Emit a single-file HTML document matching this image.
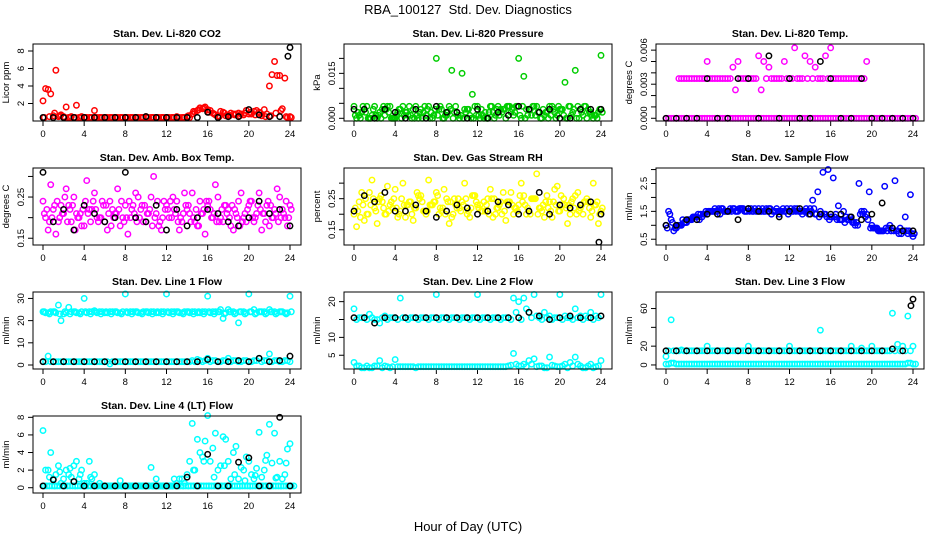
<!DOCTYPE html>
<html><head><meta charset="utf-8"><style>
html,body{margin:0;padding:0;background:#fff;}
svg{display:block;font-family:"Liberation Sans",sans-serif;}
</style></head><body>
<svg id="c" width="936" height="540" viewBox="0 0 936 540">
<text x="468" y="14" text-anchor="middle" font-size="13">RBA_100127&#160; Std. Dev. Diagnostics</text>
<text x="468" y="531" text-anchor="middle" font-size="13">Hour of Day (UTC)</text>
</svg>
<script>
const hourTicks=[0,4,8,12,16,20,24];
const co2Red1=[2.3,3.6,0.6,0.5,0.5,0.4,0.4,0.4,0.4,0.4,1.2,0.4,0.4,0.4,0.4,0.4,0.4,0.4,0.4,0.4,0.5,0.4,0.4,0.4,0.4,0.4,0.5,0.4,0.5,0.8,1.2,1.4,1.3,0.9,0.6,1.0,0.7,0.8,0.9,0.7,0.8,1.1,1.0,1.3,4.0,6.8,5.2,4.9,0.5];
const co2Red2=[3.7,3.1,5.8,0.7,1.6,0.5,1.8,0.5,0.4,0.4,0.4,0.4,0.4,0.4,0.4,0.4,0.4,0.4,0.4,0.4,0.4,0.4,0.4,0.4,0.4,0.4,0.4,0.4,0.4,1.0,1.5,1.6,1.2,0.7,1.1,0.6,0.9,0.8,0.8,1.2,0.8,1.2,0.6,0.8,5.3,5.2,1.4,0.4];
const co2Red3=[0.4,0.5,0.9,0.6,0.4,0.4,0.4,0.4,0.4,0.4,0.4,0.4,0.4,0.4,0.4,0.4,0.4,0.4,0.4,0.4,0.4,0.4,0.4,0.4,0.4,0.4,0.4,0.4,0.6,1.1,1.3,1.5,1.0,0.8,0.5,0.9,0.6,0.7,0.6,0.9,1.0,0.7,0.9,0.5,0.6,0.9,1.2,0.5,0.4];
const co2Black=[0.4,0.4,0.4,0.4,0.4,0.4,0.4,0.4,0.4,0.4,0.5,0.4,0.4,0.4,0.4,0.4,1.0,0.4,0.5,0.5,1.3,0.7,0.5,0.5,8.4];
const co2BlackExtra=[7.4];
const presGreen1=[0.004,0.001,0.003,0.000,0.004,0.002,0.001,0.004,0.000,0.003,0.002,0.001,0.004,0.003,0.001,0.002,0.020,0.003,0.001,0.016,0.002,0.015,0.003,0.008,0.004,0.001,0.000,0.002,0.004,0.003,0.004,0.001,0.020,0.014,0.003,0.004,0.002,0.001,0.004,0.002,0.003,0.012,0.004,0.016,0.003,0.004,0.002,0.001,0.021];
const presGreen2=[0.000,0.002,0.004,0.001,0.000,0.003,0.004,0.000,0.002,0.004,0.001,0.003,0.000,0.002,0.004,0.001,0.003,0.000,0.004,0.002,0.000,0.003,0.001,0.004,0.000,0.002,0.004,0.001,0.003,0.000,0.002,0.004,0.000,0.003,0.001,0.004,0.000,0.002,0.004,0.001,0.003,0.000,0.002,0.004,0.001,0.003,0.000,0.002];
const presGreen3=[0.001,0.000,0.002,0.000,0.001,0.000,0.003,0.000,0.001,0.000,0.002,0.000,0.001,0.000,0.003,0.000,0.001,0.000,0.002,0.000,0.001,0.000,0.003,0.000,0.001,0.000,0.002,0.000,0.001,0.003,0.004,0.002,0.001,0.000,0.003,0.001,0.000,0.002,0.001,0.000,0.003,0.000,0.001,0.000,0.002,0.000,0.001,0.000,0.002];
const presGreen4=[0.002,0.004,0.000,0.003,0.001,0.004,0.002,0.000,0.003,0.001,0.004,0.000,0.002,0.004,0.000,0.003,0.004,0.001,0.003,0.004,0.001,0.002,0.000,0.001,0.003,0.000,0.004,0.003,0.002,0.004,0.003,0.004,0.004,0.001,0.004,0.002,0.003,0.000,0.003,0.004,0.001,0.004,0.003,0.000,0.004,0.002,0.001,0.003];
const presBlack=[0.003,0.003,0.000,0.003,0.002,0.000,0.003,0.000,0.004,0.002,0.002,0.000,0.003,0.000,0.002,0.001,0.004,0.003,0.002,0.003,0.000,0.000,0.003,0.003,0.003];
const tempMag1=[0,0,0,0,0,0,0,0,0,0,0,0,0,0,0,0,0,0,0,0,0,0,0,0,0,0,0,0,0,0,0,0,0,0,0,0,0,0,0,0,0,0,0,0,0,0,0,0,0];
const tempMag2=[0.0035,0.0035,0.0035,0.0035,0.0035,0.005,0.0035,0.0035,0.0035,0.0035,0.0045,0.005,0.0035,0.0035,0.0035,0.0055,0.005,0.0045,0.0035,0.0035,0.005,0.0035,0.0062,0.0035,0.0055,0.005,0.0045,0.0035,0.0055,0.0062,0.0035,0.0035,0.0035,0.0035,0.0035,0.0035,0.005];
const tempMag3=[0.0035,0.0035,0.0035,0.0035,0.0035,0.0035,0.0035,0.0035,0.0035,0.0035,0.0035,0.0025,0.0035,0.0035,0.0035,0.0035,0.0025,0.0035,0.0035,0.0035,0.0035,0.0035,0.0035,0.0035,0.0035,0.0035,0.0035,0.0035,0.0035,0.0035,0.0035,0.0035,0.0035,0.0035,0.0035,0.0035,0.0035];
const tempBlack=[0,0,0,0,0.0035,0,0,0.0035,0.0035,0,0.0055,0,0.0035,0,0,0.005,0.0035,0,0,0.0035,0,0,0,0,0];
const ambMag1=[.24,.17,.22,.19,.21,.23,.25,.2,.18,.22,.26,.2,.19,.24,.21,.18,.23,.2,.26,.22,.19,.25,.21,.17,.23,.2,.24,.19,.22,.26,.18,.21,.23,.2,.25,.19,.22,.17,.24,.2,.23,.19,.26,.21,.18,.22,.25,.2,.23];
const ambMag2=[.2,.28,.16,.23,.27,.19,.21,.18,.29,.22,.2,.24,.17,.22,.27,.2,.16,.23,.25,.19,.21,.3,.18,.24,.2,.22,.17,.26,.21,.19,.24,.16,.22,.28,.2,.23,.18,.21,.26,.19,.24,.21,.17,.23,.2,.27,.22,.18];
const ambMag3=[.21,.19,.23,.2,.25,.22,.17,.21,.24,.19,.22,.2,.23,.18,.21,.24,.2,.22,.19,.23,.21,.18,.24,.2,.22,.25,.19,.21,.23,.2,.18,.22,.24,.21,.19,.23,.2,.22,.18,.21,.24,.2,.22,.19,.23,.21,.2,.24,.22];
const ambMag4=[.22,.2,.24,.21,.19,.23,.2,.22,.21,.24,.19,.23,.21,.2,.22,.19,.24,.21,.2,.23,.22,.2,.19,.22,.24,.21,.2,.23,.19,.22,.21,.24,.2,.19,.22,.21,.23,.2,.19,.22,.2,.23,.21,.24,.2,.19,.21,.2];
const ambBlack=[.31,.19,.22,.17,.23,.21,.19,.2,.31,.2,.19,.23,.17,.22,.18,.2,.22,.21,.19,.18,.2,.24,.21,.22,.18];
const rhYel1=[.2,.24,.18,.27,.22,.25,.2,.23,.28,.21,.19,.24,.22,.26,.2,.23,.27,.21,.25,.19,.22,.24,.2,.26,.23,.21,.25,.19,.22,.27,.24,.2,.23,.26,.21,.25,.22,.19,.24,.28,.21,.23,.2,.26,.22,.24,.19,.23,.21];
const rhYel2=[.16,.27,.2,.31,.17,.24,.29,.22,.19,.3,.23,.18,.26,.21,.31,.24,.2,.28,.17,.25,.22,.3,.19,.26,.23,.21,.28,.2,.24,.18,.27,.22,.3,.2,.25,.33,.21,.26,.19,.29,.23,.17,.25,.27,.2,.24,.3,.17];
const rhYel3=[.22,.19,.25,.23,.21,.26,.2,.24,.22,.25,.23,.2,.27,.24,.21,.23,.26,.22,.24,.2,.25,.23,.21,.26,.22,.24,.2,.25,.23,.21,.24,.22,.26,.23,.2,.25,.22,.24,.21,.23,.26,.22,.24,.2,.23,.25,.21,.24,.22];
const rhYel4=[.21,.23,.2,.25,.24,.22,.21,.25,.2,.23,.24,.22,.25,.21,.23,.24,.22,.2,.24,.23,.21,.25,.22,.24,.21,.23,.25,.22,.2,.24,.23,.21,.24,.22,.25,.2,.23,.22,.24,.21,.25,.23,.22,.21,.24,.22,.23,.2];
const rhBlack=[.21,.26,.24,.27,.21,.21,.23,.21,.19,.21,.23,.22,.2,.21,.24,.23,.2,.21,.27,.2,.23,.22,.23,.24,.2];
const rhBlackExtra=[.11];
const flowBlue1=[1.0,1.2,0.9,1.0,1.1,1.2,1.3,1.3,1.4,1.5,1.5,1.6,1.5,1.6,1.5,1.6,1.6,1.5,1.6,1.5,1.6,1.5,1.4,1.5,1.5,1.6,1.5,1.5,1.6,1.4,1.5,1.4,1.3,1.4,1.2,1.3,1.2,1.1,1.5,1.4,1.0,0.9,0.8,0.8,0.9,0.8,0.8,0.7,0.6];
const flowBlue2=[1.5,0.8,1.0,1.1,1.2,1.3,1.2,1.4,1.5,1.6,1.4,1.5,1.6,1.5,1.6,1.5,1.6,1.5,1.5,1.6,1.4,1.6,1.5,1.6,1.5,1.6,1.4,1.5,1.9,2.2,2.9,3.0,2.7,1.7,1.5,1.2,1.1,2.5,1.5,2.2,0.9,0.8,2.4,1.0,2.6,0.9,1.3,2.1];
const flowBlue3=[0.9,1.1,1.0,1.2,1.2,1.3,1.4,1.4,1.5,1.5,1.6,1.5,1.5,1.6,1.6,1.5,1.5,1.6,1.5,1.5,1.6,1.5,1.5,1.5,1.6,1.5,1.5,1.6,1.5,1.4,1.4,1.3,1.3,1.2,1.2,1.2,1.1,1.0,1.4,1.2,0.9,0.8,0.8,0.9,0.8,0.7,0.8,0.8,0.7];
const flowBlue4=[1.4,0.9,1.0,1.1,1.2,1.3,1.4,1.5,1.5,1.5,1.6,1.5,1.5,1.5,1.6,1.5,1.5,1.5,1.6,1.5,1.5,1.5,1.6,1.4,1.5,1.5,1.5,1.4,1.6,1.3,1.4,1.2,1.3,1.2,1.1,1.3,1.0,1.4,1.3,0.9,0.9,0.8,0.9,0.8,0.8,0.7,0.8,0.7];
const flowBlack=[1.0,1.0,1.2,1.2,1.4,1.4,1.5,1.2,1.6,1.5,1.5,1.3,1.5,1.6,1.4,1.4,1.4,1.4,1.3,1.2,1.4,1.8,0.9,0.8,0.8];
const l1Top=[24,23.5,24,27,23,26,24,23.5,30,24,24.5,24,23.5,24,24,23.5,32,24,24,23.5,24,24,23.5,24,32,24,24,23.5,24,24,23.5,24,31,24,24,21,25,24,19,24,32,25,24,24,25,24,24,23.5,31];
const l1Top2=[23.5,24,23.5,20,23.5,24,23.5,24,23.5,24,23.5,24,23.5,24,23.5,24,23.5,24,23.5,24,23.5,24,23.5,24,23.5,24,23.5,24,23.5,24,23.5,24,23.5,24,25,23.5,24,23.5,24,23.5,24,23.5,24,23.5,24,23.5,24,23.5];
const l1Top3=[24,23,24,23,24,23,24,23,24,23,24,23,24,23,24,23,24,23,24,23,24,23,24,23,24,23,24,23,24,23,24,23,24,23,24,23,24,23,24,23,24,23,24,23,24,23,24,23,24];
const l1Bot=[1.5,4,1.5,1.5,1.5,1.5,1.5,1.5,1.5,1.5,1.5,1.5,1.5,0.5,1.5,1.5,1.5,1.5,1.5,1.5,1.5,1.5,1.5,1.5,1.5,1.5,1.5,1.5,1.5,2,2.5,1.5,3,2,1.5,2,3,2,1.5,2,1.5,2,3,2,5,2,1.5,2,1.5];
const l1Bot2=[1.5,1.5,1.5,1.5,1.5,1.5,1.5,1.5,1.5,1.5,1.5,1.5,1.5,1.5,1.5,1.5,1.5,1.5,1.5,1.5,1.5,1.5,1.5,1.5,1.5,1.5,1.5,1.5,1.5,1.5,2,2,1.5,2,1.5,2,1.5,2,1.5,2,1.5,2,1.5,2,1.5,2,1.5,2];
const l1Black=[1.5,1.5,1.5,1.5,1.5,1.5,1.5,1.5,1.5,1.5,1.5,1.5,1.5,1.5,1.5,1.5,2.5,1.5,1.5,2,1.5,3,1.5,2,4];
const l2Top=[18,15.5,15.5,16.5,15,14,16,15.5,15.5,21,15.5,15.5,15.5,15.5,15.5,15.5,22,15.5,15.5,15.5,15.5,15.5,15.5,15.5,22,15.5,15.5,15.5,15.5,15.5,15.5,21,20,21,17,22,15.5,17,16,15.5,22,16,15.5,18,16,16,17,16,22];
const l2Top2=[15,15.5,15,15.5,15,15.5,15,15.5,15,15.5,15,15.5,15,15.5,15,15.5,15,15.5,15,15.5,15,15.5,15,15.5,15,15.5,15,15.5,15,15.5,15,17,15,18,15.5,16,15,15.5,15,15.5,15,15.5,15,15.5,15,15.5,15,15.5];
const l2Bot=[3,2,1.5,1.5,2,3.5,2,1.5,3.8,1.8,1.8,1.8,1.5,1.8,1.8,1.8,1.8,1.8,1.8,1.8,1.8,1.8,1.8,1.8,1.8,1.8,1.8,1.8,1.8,1.8,2,5.5,2,2.5,3.5,4,2,1.5,4.5,2,1.8,2.5,3,4.5,2,1.5,2.5,1.8,3.5];
const l2Bot2=[2,1.5,2,1.5,2,1.5,1.8,1.8,1.8,1.8,1.8,1.8,1.8,1.8,1.8,1.8,1.8,1.8,1.8,1.8,1.8,1.8,1.8,1.8,1.8,1.8,1.8,1.8,1.8,1.8,2.2,2.5,2,1.8,2.5,1.8,2,1.5,2.2,1.8,2,1.5,2,2.5,1.5,2,1.5,2];
const l2Black=[15.5,15.5,14,15.5,15.5,15.5,15.5,15.5,15.5,15.5,15.5,15.5,15.5,15.5,15.5,15.5,15.5,17,16,15,15.5,16,15.5,15.5,16];
const l3Bot=[1,2,1,1,1,1,1,1,1,1,1,1,1,1,1,1,1,1,1,1,1,1,1,1,1,1,1,1,1,1,1,1,1,1,1,1,1,1,1,1,1,1,1,1,1,1,1,2,1];
const l3Mid=[9,48,15,16,15,15,15,15,20,15,15,15,15,15,15,15,20,15,15,15,15,15,15,15,20,15,15,15,15,15,37,15,15,15,15,15,20,15,18,15,20,15,15,15,55,22,20,52,20];
const l3Mid2=[15,15,15,15,15,15,15,15,15,15,15,15,15,15,15,15,15,15,15,15,15,15,15,15,15,15,15,15,15,15,15,15,15,15,15,15,15,15,15,15,15,15,15,15,15,15,15,15];
const l3Black=[15,15,15,15,15,15,15,15,15,15,15,15,15,15,15,15,15,15,15,15,15,15,17,15,70];
const l3BlackExtra=[63];
const l4Cy1=[6.5,2,1,2.5,1,1.5,2.5,1,0.5,3,1.5,0.5,0.2,0.2,0.2,0.8,0.2,0.2,0.2,0.2,0.2,2.3,1,0.2,0.2,0.2,0.5,1,1.5,7.3,5.5,3.5,8.2,4.5,2,5.8,3,4,1,2,3,1,6.3,2,7.2,6.2,3,1.5,5];
const l4Cy2=[2,4,1.5,0.5,2,1.2,3,2,0.5,1,0.2,0.2,0.2,0.2,0.2,0.2,0.2,0.2,0.2,0.2,0.2,0.2,0.2,0.2,0.2,1,1,0.5,3,2,4,5.3,3,6.2,2.5,5.5,1,4.7,2.3,3.5,1.5,2.2,1.2,3.7,2.8,1.2,1,4.4];
const l4Cy3=[0.2,0.2,0.2,0.2,0.2,0.2,0.2,0.2,0.2,0.2,0.2,0.2,0.2,0.2,0.2,0.2,0.2,0.2,0.2,0.2,0.2,0.2,0.2,0.2,0.2,0.2,0.2,0.2,0.2,0.2,0.2,0.2,0.2,0.2,0.2,0.2,0.2,0.2,0.2,0.2,0.2,0.2,0.2,0.2,0.2,0.2,0.2,0.2,0.2];
const l4Cy4=[0.2,1.2,0.2,1.8,0.2,2.2,0.2,1.5,0.2,1.2,0.2,0.2,0.2,0.2,0.2,0.2,0.2,0.2,0.2,0.2,0.2,0.2,0.2,0.2,0.2,0.2,0.2,0.2,0.2,2,0.2,3,0.2,1.2,0.2,2.5,0.2,1.5,0.2,0.8,0.2,1.4,0.2,3.1,0.2,1.1,0.2,2.8];
const l4Black=[0.2,0.9,0.2,0.7,0.2,0.2,0.2,0.2,0.2,0.2,0.2,0.2,0.2,0.2,1.2,0.2,3.8,0.2,0.2,2.9,3.4,0.2,0.2,8,0.2];
const yTicksCo2=[2,4,6,8], yLabCo2=["2","4","6","8"];
const yTicksPres=[0,0.005,0.01,0.015,0.02], yLabPres=["0.000","","","0.015",""];
const yTicksTemp=[0,0.001,0.002,0.003,0.004,0.005,0.006], yLabTemp=["0.000","","","0.003","","","0.006"];
const yTicksAmb=[0.15,0.2,0.25,0.3], yLabAmb=["0.15","","0.25",""];
const yTicksRh=[0.15,0.2,0.25,0.3], yLabRh=["0.15","","0.25",""];
const yTicksFlow=[0.5,1,1.5,2,2.5,3], yLabFlow=["0.5","","1.5","","2.5",""];
const yTicksL1=[0,10,20,30], yLabL1=["0","10","20","30"];
const yTicksL2=[5,10,15,20], yLabL2=["5","10","","20"];
const yTicksL3=[0,20,40,60], yLabL3=["0","20","","60"];
const yTicksL4=[0,2,4,6,8], yLabL4=["0","2","4","6","8"];

const K='#000', R='#ff0000', G='#00cd00', M='#ff00ff', Y='#ffff00', B='#0000ff', C='#00ffff';
const panels=[
 {name:'co2',title:'Stan. Dev. Li-820 CO2',ylab:'Licor ppm',col:0,row:0,ymin:0,ymax:8.8,ticks:yTicksCo2,labs:yLabCo2,
  series:[[co2Red1,0,0.5,R],[co2Red2,0.25,0.5,R],[co2Red3,0.125,0.5,R],[co2Black,0,1,K],[co2BlackExtra,23.8,1,K]]},
 {name:'pressure',title:'Stan. Dev. Li-820 Pressure',ylab:'kPa',col:1,row:0,ymin:-0.0009,ymax:0.0248,ticks:yTicksPres,labs:yLabPres,
  series:[[presGreen1,0,0.5,G],[presGreen2,0.25,0.5,G],[presGreen3,0.125,0.5,G],[presGreen4,0.375,0.5,G],[presBlack,0,1,K]]},
 {name:'li820-temp',title:'Stan. Dev. Li-820 Temp.',ylab:'degrees C',col:2,row:0,ymin:-0.00024,ymax:0.00654,ticks:yTicksTemp,labs:yLabTemp,
  series:[[tempMag1,0,0.5,M],[tempMag1,0.25,0.5,M],[tempMag2,1.5,0.5,M],[tempMag3,1.25,0.5,M],[tempBlack,0,1,K]]},
 {name:'amb-temp',title:'Stan. Dev. Amb. Box Temp.',ylab:'degrees C',col:0,row:1,ymin:0.1336,ymax:0.3205,ticks:yTicksAmb,labs:yLabAmb,
  series:[[ambMag1,0,0.5,M],[ambMag2,0.25,0.5,M],[ambMag3,0.125,0.5,M],[ambMag4,0.375,0.5,M],[ambBlack,0,1,K]]},
 {name:'gas-rh',title:'Stan. Dev. Gas Stream RH',ylab:'percent',col:1,row:1,ymin:0.101,ymax:0.3487,ticks:yTicksRh,labs:yLabRh,
  series:[[rhYel1,0,0.5,Y],[rhYel2,0.25,0.5,Y],[rhYel3,0.125,0.5,Y],[rhYel4,0.375,0.5,Y],[rhBlack,0,1,K],[rhBlackExtra,23.8,1,K]]},
 {name:'sample-flow',title:'Stan. Dev. Sample Flow',ylab:'ml/min',col:2,row:1,ymin:0.293,ymax:3.056,ticks:yTicksFlow,labs:yLabFlow,
  series:[[flowBlue1,0,0.5,B],[flowBlue2,0.25,0.5,B],[flowBlue3,0.125,0.5,B],[flowBlue4,0.375,0.5,B],[flowBlack,0,1,K]]},
 {name:'line1-flow',title:'Stan. Dev. Line 1 Flow',ylab:'ml/min',col:0,row:2,ymin:-1.8,ymax:32.9,ticks:yTicksL1,labs:yLabL1,
  series:[[l1Top,0,0.5,C],[l1Top2,0.25,0.5,C],[l1Top3,0.125,0.5,C],[l1Bot,0,0.5,C],[l1Bot2,0.25,0.5,C],[l1Black,0,1,K]]},
 {name:'line2-flow',title:'Stan. Dev. Line 2 Flow',ylab:'ml/min',col:1,row:2,ymin:1.15,ymax:22.7,ticks:yTicksL2,labs:yLabL2,
  series:[[l2Top,0,0.5,C],[l2Top2,0.25,0.5,C],[l2Bot,0,0.5,C],[l2Bot2,0.25,0.5,C],[l2Black,0,1,K]]},
 {name:'line3-flow',title:'Stan. Dev. Line 3 Flow',ylab:'ml/min',col:2,row:2,ymin:-4.3,ymax:77.6,ticks:yTicksL3,labs:yLabL3,
  series:[[l3Bot,0,0.5,C],[l3Bot,0.25,0.5,C],[l3Mid,0,0.5,C],[l3Mid2,0.25,0.5,C],[l3Black,0,1,K],[l3BlackExtra,23.8,1,K]]},
 {name:'line4-flow',title:'Stan. Dev. Line 4 (LT) Flow',ylab:'ml/min',col:0,row:3,ymin:-0.6,ymax:8.15,ticks:yTicksL4,labs:yLabL4,
  series:[[l4Cy1,0,0.5,C],[l4Cy2,0.25,0.5,C],[l4Cy3,0.125,0.5,C],[l4Cy3,0.375,0.5,C],[l4Cy4,0.125,0.5,C],[l4Black,0,1,K]]}
];
const NS='http://www.w3.org/2000/svg';
const svg=document.getElementById('c');
const lefts=[33,344,656], tops=[44,168,292,416], W=268, H=77;
function mk(tag,attrs,parent){const e=document.createElementNS(NS,tag);for(const k in attrs)e.setAttribute(k,attrs[k]);parent.appendChild(e);return e;}
panels.forEach(p=>{
 const L=lefts[p.col], T=tops[p.row];
 const g=mk('g',{},svg);
 
 
 const xs=h=>L+10+h*(W-21)/24;
 const ys=v=>T+H-(v-p.ymin)/(p.ymax-p.ymin)*H;
 const t=mk('text',{x:L+W/2,y:T-7,'text-anchor':'middle','font-size':'10.5','font-weight':'bold'},g);
 t.textContent=p.title;
 
 
 const yl=mk('text',{x:0,y:0,'text-anchor':'middle','font-size':'9.5',transform:`translate(${L-24},${T+H/2}) rotate(-90)`},g);
 yl.textContent=p.ylab;
 
 
 hourTicks.forEach(h=>{
  mk('line',{x1:xs(h),x2:xs(h),y1:T+H,y2:T+H+5,stroke:'#000','stroke-width':1},g);
  const tl=mk('text',{x:xs(h),y:T+H+16,'text-anchor':'middle','font-size':'9.5'},g);
  tl.textContent=String(h);
  
  
 });
 p.ticks.forEach((v,i)=>{
  mk('line',{x1:L-5,x2:L,y1:ys(v),y2:ys(v),stroke:'#000','stroke-width':1},g);
  if(p.labs[i]){
   const tl=mk('text',{x:0,y:0,'text-anchor':'middle','font-size':'9.5',transform:`translate(${L-9},${ys(v)}) rotate(-90)`},g);
   tl.textContent=p.labs[i];
   
   
  }
 });
 const order=p.series.filter(s=>s[3]!==K).concat(p.series.filter(s=>s[3]===K));
 order.forEach(s=>{
  const [vals,t0,dt,col]=s;
  vals.forEach((v,i)=>{
   const c=mk('circle',{cx:xs(t0+i*dt),cy:ys(v),r:2.7,fill:'none',stroke:col,'stroke-width':1.5},g);
   
   
  });
 });
 const box=mk('rect',{x:L,y:T,width:W,height:H,fill:'none',stroke:'#000','stroke-width':1},g);
 
 
});
</script>
</body></html>
